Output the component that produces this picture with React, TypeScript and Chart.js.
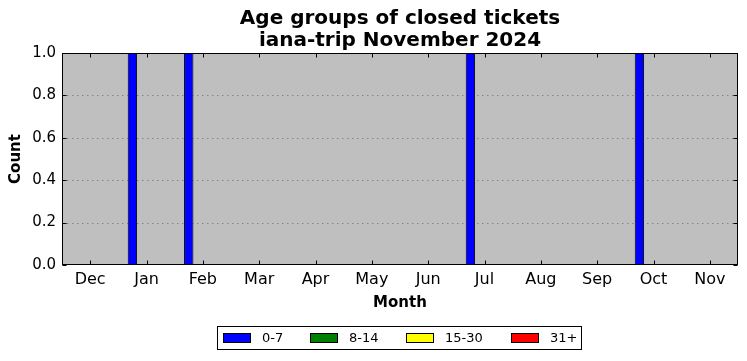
import React, { useEffect, useRef } from "react";
import { Chart, registerables } from "chart.js";

Chart.register(...registerables);

const months = ["Dec", "Jan", "Feb", "Mar", "Apr", "May", "Jun", "Jul", "Aug", "Sep", "Oct", "Nov"];
const ageGroups = ["0-7", "8-14", "15-30", "31+"];
const groupColors = ["#0000ff", "#008000", "#ffff00", "#ff0000"];
const count0to7 = [0, 1, 1, 0, 0, 0, 0, 1, 0, 0, 1, 0];
const count8to14 = [0, 0, 0, 0, 0, 0, 0, 0, 0, 0, 0, 0];
const count15to30 = [0, 0, 0, 0, 0, 0, 0, 0, 0, 0, 0, 0];
const count31plus = [0, 0, 0, 0, 0, 0, 0, 0, 0, 0, 0, 0];
const yTicks = [0, 0.2, 0.4, 0.6, 0.8, 1.0];
const titleLines = ["Age groups of closed tickets", "iana-trip November 2024"];
const xTitle = "Month";
const yTitle = "Count";

const FONT = "'DejaVu Sans', sans-serif";

const decor = {
  id: "decor",
  beforeDraw(chart: any) {
    const { ctx, chartArea: a } = chart;
    ctx.save();
    ctx.fillStyle = "#bfbfbf";
    ctx.fillRect(a.left, a.top, a.right - a.left, a.bottom - a.top);
    const ys = chart.scales.y;
    ctx.strokeStyle = "#858585";
    ctx.lineWidth = 1;
    ctx.setLineDash([1.5, 3.5]);
    for (const v of yTicks) {
      if (v <= 0 || v >= 1) continue;
      const py = Math.round(ys.getPixelForValue(v)) + 0.5;
      ctx.beginPath();
      ctx.moveTo(a.left, py);
      ctx.lineTo(a.right, py);
      ctx.stroke();
    }
    ctx.restore();
  },
  afterDatasetsDraw(chart: any) {
    const { ctx, chartArea: a } = chart;
    const xs = chart.scales.x;
    const ys = chart.scales.y;
    ctx.save();
    ctx.strokeStyle = "#000";
    ctx.lineWidth = 1;
    ctx.setLineDash([]);
    const L = Math.round(a.left) + 0.5;
    const R = Math.round(a.right) - 0.5;
    const T = Math.round(a.top) + 0.5;
    const B = Math.round(a.bottom) - 0.5;
    ctx.strokeRect(L, T, R - L, B - T);
    ctx.beginPath();
    months.forEach((_, i) => {
      const px = Math.round(xs.getPixelForValue(i)) + 0.5;
      ctx.moveTo(px, T);
      ctx.lineTo(px, T + 4);
      ctx.moveTo(px, B);
      ctx.lineTo(px, B - 4);
    });
    yTicks.forEach((v) => {
      const py = Math.round(ys.getPixelForValue(v)) + 0.5;
      ctx.moveTo(L, py);
      ctx.lineTo(L + 4, py);
      ctx.moveTo(R, py);
      ctx.lineTo(R - 4, py);
    });
    ctx.stroke();
    ctx.restore();
  },
  afterDraw(chart: any) {
    const { ctx, chartArea: a } = chart;
    const cx = (a.left + a.right) / 2;
    ctx.save();
    ctx.fillStyle = "#000";
    ctx.textAlign = "center";
    ctx.textBaseline = "middle";
    ctx.font = `bold 20px ${FONT}`;
    ctx.fillText(titleLines[0], cx, 19);
    ctx.fillText(titleLines[1], cx, 41);
    ctx.font = `bold 15px ${FONT}`;
    ctx.fillText(xTitle, cx, 303);
    ctx.save();
    ctx.translate(16, (a.top + a.bottom) / 2);
    ctx.rotate(-Math.PI / 2);
    ctx.fillText(yTitle, 0, 0);
    ctx.restore();

    // legend
    const boxL = 217, boxT = 326, boxR = 582, boxB = 350;
    ctx.fillStyle = "#fff";
    ctx.fillRect(boxL, boxT, boxR - boxL, boxB - boxT);
    ctx.strokeStyle = "#000";
    ctx.lineWidth = 1;
    ctx.strokeRect(boxL + 0.5, boxT + 0.5, boxR - boxL - 1, boxB - boxT - 1);
    const itemX = [223, 310, 406, 511];
    ctx.font = `13px ${FONT}`;
    ctx.textAlign = "left";
    ageGroups.forEach((g, i) => {
      ctx.fillStyle = groupColors[i];
      ctx.fillRect(itemX[i], 333, 28, 10);
      ctx.strokeStyle = "#000";
      ctx.strokeRect(itemX[i] + 0.5, 333.5, 27, 9);
      ctx.fillStyle = "#000";
      ctx.fillText(g, itemX[i] + 39, 338.5);
    });
    ctx.restore();
  },
};

export default function App() {
  const ref = useRef<HTMLCanvasElement>(null);
  useEffect(() => {
    if (!ref.current) return;
    const series = [count0to7, count8to14, count15to30, count31plus];
    const chart = new Chart(ref.current, {
      type: "bar",
      data: {
        labels: months,
        datasets: ageGroups.map((g, i) => ({
          label: g,
          data: series[i],
          backgroundColor: groupColors[i],
          borderColor: "#000",
          borderWidth: 1,
          borderSkipped: "start",
          categoryPercentage: 2 / 3,
          barPercentage: 1,
        })),
      },
      options: {
        responsive: false,
        animation: false,
        devicePixelRatio: 1,
        layout: { padding: { left: 0, top: 53, right: 9, bottom: 0 } },
        plugins: {
          legend: { display: false },
          title: { display: false },
          tooltip: { enabled: false },
        },
        scales: {
          x: {
            offset: true,
            grid: { display: false, drawTicks: false },
            border: { display: false },
            ticks: {
              color: "#000",
              font: { family: FONT, size: 16 },
              padding: 5,
              maxRotation: 0,
              autoSkip: false,
            },
            afterFit: (s: any) => {
              s.height = 96;
            },
          },
          y: {
            min: 0,
            max: 1,
            grid: { display: false, drawTicks: false },
            border: { display: false },
            ticks: {
              color: "#000",
              stepSize: 0.2,
              font: { family: FONT, size: 15 },
              padding: 6,
              callback: (v: any) => Number(v).toFixed(1),
            },
            afterFit: (s: any) => {
              s.width = 62;
            },
          },
        },
      },
      plugins: [decor],
    });
    return () => chart.destroy();
  }, []);
  return (
    <div style={{ position: "fixed", left: 0, top: 0, width: 747, height: 361, background: "#fff" }}>
      <canvas ref={ref} width={747} height={361} style={{ display: "block", width: 747, height: 361 }} />
    </div>
  );
}
